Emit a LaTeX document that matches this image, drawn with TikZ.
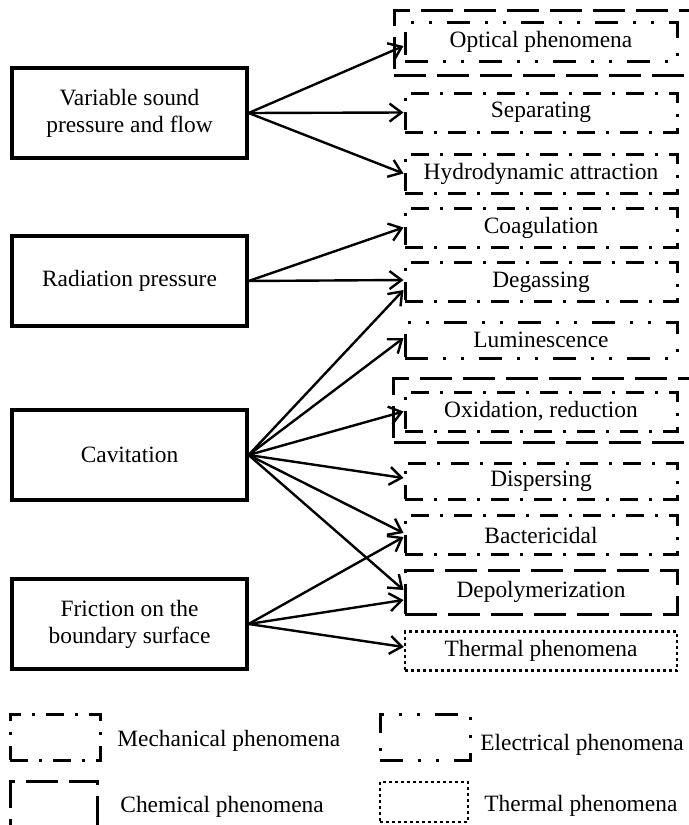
\documentclass[tikz,border=0pt]{standalone}
\usepackage{fontspec}
\setmainfont{Liberation Serif}
\usetikzlibrary{positioning,arrows.meta}

\tikzset{
  cause/.style={draw,line width=1.6pt,minimum width=117.5pt,minimum height=45pt,align=center,inner sep=0pt},
  effect/.style={line width=1.5pt,minimum width=136pt,minimum height=19.5pt,inner sep=0pt},
  mech/.style={effect,draw,dash pattern=on 9pt off 5.5pt on 1.5pt off 5.5pt},
  elec/.style={effect,draw,dash pattern=on 11.5pt off 7.5pt on 1.5pt off 7.5pt on 1.5pt off 7.5pt},
  chem/.style={effect,draw,dash pattern=on 16pt off 5.5pt},
  therm/.style={effect,draw,line width=1.2pt,dash pattern=on 1.5pt off 1.5pt},
  keybox/.style={minimum width=45pt,minimum height=23pt},
  link/.style={-{Straight Barb[length=6pt,width=9pt]},line width=1.2pt},
}

\begin{document}
\begin{tikzpicture}[x=0.5pt,y=-0.5pt,font=\fontsize{11.7}{13.5}\selectfont]
\useasboundingbox (0,0) rectangle (689,825);
\clip (0,0) rectangle (689,825);
% Causes on the left
\node[cause] (var) at (129.5,113) {Variable sound\\pressure and flow};
\node[cause] (rad) at (129.5,281) {Radiation pressure};
\node[cause] (cav) at (129.5,455) {Cavitation};
\node[cause] (fri) at (129.5,624) {Friction on the\\boundary surface};
% Effects on the right, double frames drawn first
\node[chem,minimum width=149pt,minimum height=32.5pt] (optO) at (543,42.5) {};
\node[elec] (opt) at (541,42) {Optical phenomena};
\node[mech] (sep) at (541,112.5) {Separating};
\node[mech] (hyd) at (541,173.5) {Hydrodynamic attraction};
\node[mech] (coa) at (541,227.5) {Coagulation};
\node[mech] (deg) at (541,282) {Degassing};
\node[elec,minimum height=18pt] (lum) at (541,340) {Luminescence};
\node[chem,minimum width=149pt,minimum height=32pt] (oxiO) at (542.5,410) {};
\node[mech] (oxi) at (541,411.5) {Oxidation, reduction};
\node[mech,minimum height=18pt] (dis) at (541,481) {Dispersing};
\node[mech] (bac) at (541,535) {Bactericidal};
\node[chem,minimum height=22pt] (dep) at (541,592) {Depolymerization};
\node[therm,text depth=2.5pt] (the) at (541,651) {Thermal phenomena};
% Connections
\draw[link] (var.east) -- ([yshift=-2pt]opt.west);
\draw[link] (var.east) -- (sep.west);
\draw[link] (var.east) -- (hyd.west);
\draw[link] (rad.east) -- (coa.west);
\draw[link] (rad.east) -- ([yshift=1pt]deg.west);
\draw[link] (cav.east) -- ([yshift=-4pt]deg.west);
\draw[link] (cav.east) -- ([yshift=1pt]lum.west);
\draw[link] (cav.east) -- (oxi.west);
\draw[link] (cav.east) -- ([yshift=1.5pt]dis.west);
\draw[link] (cav.east) -- ([yshift=1pt]bac.west);
\draw[link] (cav.east) -- ([yshift=1pt]dep.west);
\draw[link] (fri.east) -- ([yshift=-1pt]bac.west);
\draw[link] (fri.east) -- ([yshift=-4pt]dep.west);
\draw[link] (fri.east) -- ([yshift=2pt]the.west);
% Legend
\node[mech,keybox] (mkey) at (55,737) {};
\node[anchor=west,inner sep=0pt] (mtxt) at (117,741) {Mechanical phenomena};
\node[elec,keybox] (ekey) at (425,737) {};
\node[anchor=west,inner sep=0pt] (etxt) at (480,745) {Electrical phenomena};
\node[chem,keybox,minimum width=43.5pt] (ckey) at (53.5,804) {};
\node[anchor=west,inner sep=0pt] (ctxt) at (120,807) {Chemical phenomena};
\node[therm,keybox,minimum width=44pt,minimum height=20pt] (tkey) at (424,802) {};
\node[anchor=west,inner sep=0pt] (ttxt) at (484,806) {Thermal phenomena};
\end{tikzpicture}
\end{document}
